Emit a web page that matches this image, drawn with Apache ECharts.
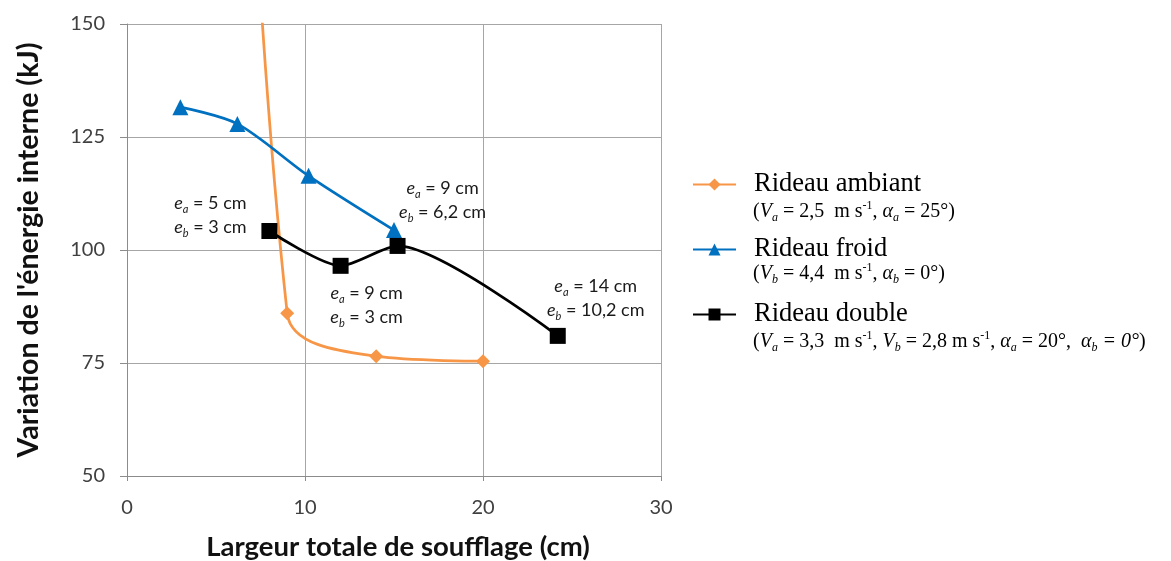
<!DOCTYPE html>
<html>
<head>
<meta charset="utf-8">
<script src="https://cdn.jsdelivr.net/npm/echarts@6/dist/echarts.min.js"></script>
<style>
  html, body { margin: 0; padding: 0; background: #ffffff; overflow: hidden; }
  #chart { width: 1171px; height: 561px; }
</style>
</head>
<body>
<div id="chart"></div>
<script>
// Largeur totale de soufflage (cm) et variation de l'énergie interne (kJ)
const seriesNames = ['Rideau ambiant', 'Rideau froid', 'Rideau double'];

const widthAmbiant = [5, 9, 14, 20];
const energyAmbiant = [400, 86, 76.5, 75.4];

const widthFroid = [3, 6.2, 10.2, 15];
const energyFroid = [131.6, 127.9, 116.4, 104.4];

const widthDouble = [8, 12, 15.2, 24.2];
const energyDouble = [104.2, 96.5, 100.9, 81];

// épaisseurs des jets du rideau double (cm)
const eaDouble = ['5', '9', '9', '14'];
const ebDouble = ['3', '3', '6,2', '10,2'];

const xTicks = [0, 10, 20, 30];
const yTicks = [50, 75, 100, 125, 150];

const colors = ['#F79646', '#0070C0', '#000000'];

function pairs(xs, ys) {
  return xs.map((x, i) => [x, ys[i]]);
}

const calibriLike = 'Lato, "Open Sans", sans-serif';
const serifLike = '"Liberation Serif", "DejaVu Serif", serif';

const annoRich = {
  e: { fontStyle: 'italic', fontSize: 18, fontFamily: calibriLike, color: '#1a1a1a', lineHeight: 24, verticalAlign: 'middle' },
  s: { fontStyle: 'italic', fontSize: 11, fontFamily: calibriLike, color: '#1a1a1a', lineHeight: 14, verticalAlign: 'bottom' },
  t: { fontSize: 18, fontFamily: calibriLike, color: '#1a1a1a', lineHeight: 24, verticalAlign: 'middle' }
};

// décalage de chaque étiquette par rapport à son point
const annoOffsets = [[-59, -16], [26, 39], [45, -46], [38, -38]];

const doubleData = widthDouble.map((x, i) => ({
  value: [x, energyDouble[i]],
  label: {
    show: true,
    position: 'inside',
    offset: annoOffsets[i],
    align: 'center',
    verticalAlign: 'middle',
    formatter: '{e|e}{s|a}{t| = ' + eaDouble[i] + ' cm}\n{e|e}{s|b}{t| = ' + ebDouble[i] + ' cm}',
    rich: annoRich
  }
}));

const subRich = {
  i: { fontStyle: 'italic', fontSize: 20, fontFamily: serifLike, fill: '#000', lineHeight: 24, verticalAlign: 'middle' },
  sb: { fontStyle: 'italic', fontSize: 12, fontFamily: serifLike, fill: '#000', lineHeight: 15, verticalAlign: 'bottom' },
  sp: { fontSize: 12, fontFamily: serifLike, fill: '#000', lineHeight: 15, verticalAlign: 'top' },
  r: { fontSize: 20, fontFamily: serifLike, fill: '#000', lineHeight: 24, verticalAlign: 'middle' }
};

const legendNotes = [
  '{r|(}{i|V}{sb|a}{r| = 2,5  m s}{sp|-1}{r|, }{i|α}{sb|a}{r| = 25°)}',
  '{r|(}{i|V}{sb|b}{r| = 4,4  m s}{sp|-1}{r|, }{i|α}{sb|b}{r| = 0°)}',
  '{r|(}{i|V}{sb|a}{r| = 3,3  m s}{sp|-1}{r|, }{i|V}{sb|b}{r| = 2,8 m s}{sp|-1}{r|, }{i|α}{sb|a}{r| = 20°,  }{i|α}{sb|b}{i| = 0°}{r|)}'
];
const legendNoteY = [212, 274, 342];

const chart = echarts.init(document.getElementById('chart'));

chart.setOption({
  backgroundColor: '#ffffff',
  animation: false,
  color: colors,
  grid: { left: 127, top: 24, width: 534, height: 452, containLabel: false, outerBoundsMode: 'none' },
  xAxis: {
    type: 'value',
    min: xTicks[0],
    max: xTicks[xTicks.length - 1],
    interval: 10,
    name: 'Largeur totale de soufflage (cm)',
    nameLocation: 'middle',
    nameGap: 57,
    nameTextStyle: { fontFamily: calibriLike, fontWeight: 'bold', fontSize: 27.5, color: '#111', padding: [0, 0, 0, 8] },
    axisLine: { show: true, lineStyle: { color: '#8c8c8c', width: 1 } },
    axisTick: { show: true, inside: false, length: 5, lineStyle: { color: '#8c8c8c' } },
    axisLabel: { fontFamily: calibriLike, fontSize: 20, color: '#404040', margin: 22 },
    splitLine: { show: true, lineStyle: { color: '#a6a6a6', width: 1 } }
  },
  yAxis: {
    type: 'value',
    min: yTicks[0],
    max: yTicks[yTicks.length - 1],
    interval: 25,
    name: "Variation de l'énergie interne (kJ)",
    nameLocation: 'middle',
    nameGap: 84,
    nameRotate: 90,
    nameTextStyle: { fontFamily: calibriLike, fontWeight: 'bold', fontSize: 28.5, color: '#111' },
    axisLine: { show: true, lineStyle: { color: '#8c8c8c', width: 1 } },
    axisTick: { show: true, inside: false, length: 7, lineStyle: { color: '#8c8c8c' } },
    axisLabel: { fontFamily: calibriLike, fontSize: 20, color: '#404040', margin: 22 },
    splitLine: { show: true, lineStyle: { color: '#a6a6a6', width: 1 } }
  },
  legend: {
    orient: 'vertical',
    left: 687,
    top: 166,
    itemWidth: 43,
    itemHeight: 15,
    itemGap: 38,
    selectedMode: false,
    textStyle: { fontFamily: serifLike, fontSize: 26.5, color: '#000', lineHeight: 27, padding: [0, 0, 0, 13] },
    data: seriesNames
  },
  graphic: legendNotes.map((txt, i) => ({
    type: 'text',
    left: 753,
    top: legendNoteY[i] - 12,
    style: { text: txt, rich: subRich, fill: '#000', fontFamily: serifLike, fontSize: 20 }
  })),
  series: [
    {
      name: seriesNames[0],
      type: 'line',
      smooth: 0.35,
      clip: true,
      symbol: 'diamond',
      symbolSize: 14,
      lineStyle: { width: 2.75, color: colors[0] },
      itemStyle: { color: colors[0] },
      data: pairs(widthAmbiant, energyAmbiant)
    },
    {
      name: seriesNames[1],
      type: 'line',
      smooth: 0.3,
      clip: true,
      symbol: 'triangle',
      symbolSize: 16,
      lineStyle: { width: 2.75, color: colors[1] },
      itemStyle: { color: colors[1] },
      data: pairs(widthFroid, energyFroid)
    },
    {
      name: seriesNames[2],
      type: 'line',
      smooth: 0.25,
      clip: true,
      symbol: 'rect',
      symbolSize: 16,
      lineStyle: { width: 2.75, color: colors[2] },
      itemStyle: { color: colors[2] },
      data: doubleData
    }
  ]
});
</script>
</body>
</html>
